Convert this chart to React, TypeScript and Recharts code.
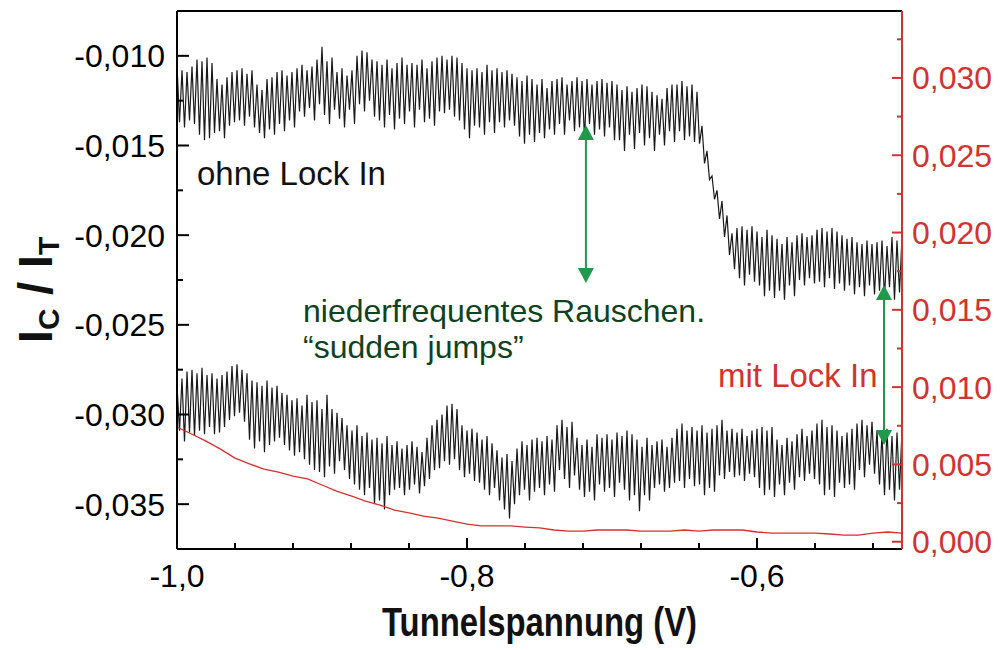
import React from 'react';
import { LineChart, Line, XAxis, YAxis, ReferenceLine, ReferenceDot } from 'recharts';

const FONT = '"Liberation Sans", Arial, Helvetica, sans-serif';
const RED = '#d4322e';
const GREEN = '#1f9a4b';
const DARKGREEN = '#0f4220';

// sampling grid of the measurement (291 samples between -1.0 V and -0.5 V)
const X_START = -1.0;
const X_STEP = 0.5 / 290;

// upper curve "ohne Lock In" (left axis), units of 1e-4
const upperPeaks = [
  -105, -108, -109, -106, -102, -103, -101, -104, -113, -116, -112, -109, -108, -107, -110, -108,
  -116, -119, -113, -112, -109, -108, -111, -109, -107, -105, -108, -106, -102, -95, -103, -101,
  -109, -107, -111, -108, -100, -97, -98, -102, -103, -105, -102, -107, -104, -101, -105, -104,
  -105, -102, -107, -103, -101, -100, -102, -100, -101, -104, -107, -108, -107, -109, -105, -108,
  -107, -109, -108, -110, -112, -114, -111, -113, -116, -113, -118, -114, -113, -112, -116, -114,
  -112, -114, -113, -116, -114, -113, -115, -114, -116, -119, -117, -120, -118, -116, -117, -120,
  -122, -124, -118, -116, -116, -114, -117, -116, -120, -139, -153, -167, -175, -181, -189, -199,
  -196, -195, -197, -195, -198, -201, -197, -200, -202, -205, -201, -204, -200, -199, -201, -200,
  -197, -196, -198, -196, -198, -200, -202, -201, -204, -205, -203, -205, -204, -203, -206, -201,
  -203, -201,
];
const upperTroughs = [
  -137, -140, -136, -138, -144, -147, -146, -143, -142, -146, -139, -137, -136, -139, -134, -140,
  -143, -146, -141, -144, -138, -142, -136, -140, -131, -134, -129, -136, -127, -133, -138, -130,
  -135, -140, -130, -138, -127, -131, -125, -134, -136, -140, -133, -141, -135, -138, -131, -140,
  -130, -137, -135, -139, -131, -132, -130, -134, -136, -141, -146, -139, -140, -144, -137, -143,
  -137, -140, -136, -139, -145, -149, -144, -148, -143, -146, -141, -144, -138, -144, -136, -142,
  -140, -146, -138, -144, -141, -145, -140, -147, -147, -153, -144, -152, -143, -150, -146, -153,
  -144, -150, -142, -148, -142, -147, -145, -148, -149, -160, -169, -180, -191, -201, -211, -219,
  -224, -228, -222, -226, -228, -234, -231, -235, -231, -236, -228, -234, -225, -228, -224, -227,
  -226, -229, -224, -230, -227, -231, -228, -233, -229, -234, -228, -233, -231, -235, -229, -236,
  -232,
];

// lower curve (left axis), units of 1e-4
const lowerPeaks = [
  -284, -280, -276, -275, -277, -274, -278, -277, -280, -278, -276, -273, -272, -275, -277, -281,
  -282, -284, -281, -285, -284, -288, -289, -292, -291, -295, -289, -293, -292, -297, -289, -297,
  -299, -302, -306, -309, -306, -312, -310, -314, -313, -316, -312, -317, -315, -319, -317, -315,
  -318, -321, -313, -306, -303, -300, -295, -294, -297, -306, -309, -308, -310, -314, -312, -316,
  -320, -324, -322, -326, -319, -315, -317, -314, -313, -315, -312, -314, -306, -303, -307, -304,
  -313, -317, -314, -318, -311, -313, -311, -314, -310, -312, -309, -311, -314, -318, -313, -317,
  -315, -314, -318, -313, -308, -305, -309, -307, -309, -306, -310, -308, -306, -303, -309, -308,
  -310, -308, -312, -309, -308, -307, -309, -307, -314, -317, -313, -315, -311, -308, -312, -309,
  -305, -303, -307, -306, -309, -312, -310, -308, -305, -303, -306, -304, -309, -311, -308, -312,
  -310, -309,
];
const lowerTroughs = [
  -309, -315, -310, -312, -309, -311, -307, -311, -310, -307, -303, -301, -299, -304, -314, -319,
  -315, -321, -317, -315, -313, -317, -320, -323, -321, -325, -328, -331, -332, -335, -329, -333,
  -326, -331, -336, -339, -342, -345, -341, -350, -348, -353, -345, -342, -341, -345, -342, -339,
  -344, -340, -336, -331, -330, -326, -328, -325, -331, -335, -333, -337, -338, -342, -345, -341,
  -348, -353, -358, -350, -345, -342, -348, -343, -341, -345, -339, -343, -331, -336, -341, -334,
  -342, -346, -343, -348, -339, -343, -341, -346, -338, -342, -348, -345, -354, -345, -348, -341,
  -339, -343, -341, -338, -337, -341, -336, -340, -339, -345, -341, -343, -334, -336, -332, -335,
  -334, -337, -333, -335, -341, -345, -342, -346, -339, -345, -338, -342, -335, -337, -333, -336,
  -339, -345, -342, -346, -338, -341, -339, -342, -331, -335, -328, -333, -339, -345, -342, -348,
  -342,
];

// "mit Lock In" curve (right axis), units of 1e-4
const redX = [
  -1.0, -0.99, -0.98, -0.97, -0.96, -0.95, -0.94, -0.93, -0.92, -0.91, -0.9, -0.89, -0.88, -0.87,
  -0.86, -0.85, -0.84, -0.83, -0.82, -0.81, -0.8, -0.79, -0.78, -0.77, -0.76, -0.75, -0.74, -0.73,
  -0.72, -0.71, -0.7, -0.69, -0.68, -0.67, -0.66, -0.65, -0.64, -0.63, -0.62, -0.61, -0.6, -0.59,
  -0.58, -0.57, -0.56, -0.55, -0.54, -0.53, -0.52, -0.51, -0.5,
];
const redVals = [
  74.2, 69.7, 65.1, 59.9, 54.1, 50.3, 47.0, 45.1, 42.5, 40.6, 36.7, 32.8, 29.6, 26.3, 23.7, 20.5,
  18.6, 16.6, 15.3, 13.4, 11.4, 10.2, 10.2, 10.2, 9.5, 8.9, 7.6, 6.9, 6.9, 7.6, 7.6, 7.6, 6.9, 6.9,
  6.9, 7.6, 6.9, 7.6, 7.6, 7.6, 6.3, 5.6, 5.6, 5.6, 5.6, 5.0, 4.3, 4.3, 5.6, 6.3, 5.6,
];

const xTicks = [-1.0, -0.96, -0.92, -0.88, -0.84, -0.8, -0.76, -0.72, -0.68, -0.64, -0.6, -0.56, -0.52];
const yLeftTicks = [-0.035, -0.0325, -0.03, -0.0275, -0.025, -0.0225, -0.02, -0.0175, -0.015, -0.0125, -0.01];
const yRightTicks = [0, 0.0025, 0.005, 0.0075, 0.01, 0.0125, 0.015, 0.0175, 0.02, 0.0225, 0.025, 0.0275, 0.03, 0.0325];

const xDomain: [number, number] = [-1.0, -0.5];
const yLeftDomain: [number, number] = [-0.0375, -0.0075];
const yRightDomain: [number, number] = [-0.00047, 0.03433];

// annotations (data coordinates)
const upperArrow = { x: -0.718, from: -0.01386, to: -0.02267 };
const lowerArrow = { x: -0.5124, from: -0.02278, to: -0.0317 };
const notes = [
  { text: 'ohne Lock In', x: -0.9862, y: -0.0172, color: '#111', size: 33 },
  { text: 'niederfrequentes Rauschen.', x: -0.9131, y: -0.02485, color: DARKGREEN, size: 32 },
  { text: '\u201Csudden jumps\u201D', x: -0.9131, y: -0.02686, color: DARKGREEN, size: 32 },
  { text: 'mit Lock In', x: -0.6269, y: -0.02847, color: RED, size: 33 },
];

function interleave(p: number[], t: number[]) {
  const out: number[] = [];
  for (let i = 0; i < p.length; i++) {
    out.push(p[i]);
    if (i < t.length) out.push(t[i]);
  }
  return out;
}

const upper = interleave(upperPeaks, upperTroughs);
const lower = interleave(lowerPeaks, lowerTroughs);
const mainData = upper.map((u, i) => ({ x: X_START + i * X_STEP, upper: u / 1e4, lower: lower[i] / 1e4 }));
const redData = redX.map((x, i) => ({ x, red: redVals[i] / 1e4 }));

const isMult = (v: number, step: number) => Math.abs(v / step - Math.round(v / step)) < 1e-6;
const fmt = (v: number, d: number) => {
  const s = (Math.abs(v) < 1e-12 ? 0 : v).toFixed(d);
  return s.replace('.', ',');
};

const LeftTick = (props: any) => {
  const { x, y, payload } = props;
  const v = payload.value;
  const major = isMult(v, 0.005);
  return (
    <g>
      <line x1={x} x2={x + (major ? 12 : 6)} y1={y} y2={y} stroke="#000" strokeWidth={2} />
      {major && (
        <text x={x - 12} y={y} dy="0.36em" textAnchor="end" fontSize={32} fontFamily={FONT} fill="#000">
          {fmt(v, 3)}
        </text>
      )}
    </g>
  );
};

const RightTick = (props: any) => {
  const { x, y, payload } = props;
  const v = payload.value;
  const major = isMult(v, 0.005);
  return (
    <g>
      <line x1={x} x2={x - (major ? 10 : 5)} y1={y} y2={y} stroke={RED} strokeWidth={2} />
      {major && (
        <text x={x + 10} y={y} dy="0.36em" textAnchor="start" fontSize={32} fontFamily={FONT} fill={RED}>
          {fmt(v, 3)}
        </text>
      )}
    </g>
  );
};

const BottomTick = (props: any) => {
  const { x, y, payload } = props;
  const v = payload.value;
  const major = isMult(v, 0.2);
  return (
    <g>
      <line x1={x} x2={x} y1={y} y2={y - (major ? 11 : 6)} stroke="#000" strokeWidth={2} />
      {major && (
        <text x={x} y={y + 38} textAnchor="middle" fontSize={32} fontFamily={FONT} fill="#000">
          {fmt(v, 1)}
        </text>
      )}
    </g>
  );
};

const XTitle = () => (
  <text
    x={539.5}
    y={636}
    textAnchor="middle"
    fontSize={40}
    fontWeight="bold"
    fontFamily={FONT}
    fill="#111"
    textLength={315}
    lengthAdjust="spacingAndGlyphs"
  >
    Tunnelspannung (V)
  </text>
);

const YTitle = () => (
  <text
    transform="translate(52, 290) rotate(-90)"
    textAnchor="middle"
    fontSize={48}
    fontWeight="bold"
    fontFamily={FONT}
    fill="#111"
  >
    I
    <tspan fontSize={30} dy={7}>C</tspan>
    <tspan dy={-7}> / I</tspan>
    <tspan fontSize={30} dy={7}>T</tspan>
  </text>
);

const ArrowShape = (props: any) => {
  const { x1, y1, x2, y2 } = props;
  const x = (x1 + x2) / 2;
  const top = Math.min(y1, y2);
  const bot = Math.max(y1, y2);
  const h = 15;
  const w = 8;
  return (
    <g>
      <line x1={x} x2={x} y1={top + h - 2} y2={bot - h + 2} stroke={GREEN} strokeWidth={2} />
      <polygon points={`${x},${top} ${x - w},${top + h} ${x + w},${top + h}`} fill={GREEN} />
      <polygon points={`${x},${bot} ${x - w},${bot - h} ${x + w},${bot - h}`} fill={GREEN} />
    </g>
  );
};

const noteShape = (text: string, color: string, size: number) => (p: any) => (
  <text x={p.cx} y={p.cy} fontSize={size} fontFamily={FONT} fill={color}>
    {text}
  </text>
);

export default function App() {
  return (
    <div style={{ position: 'absolute', left: 0, top: 0, width: 1005, height: 650, background: '#fff' }}>
      <LineChart width={1005} height={650} data={mainData} margin={{ top: 11, right: 0, bottom: 0, left: 0 }}>
        <XAxis
          dataKey="x"
          type="number"
          domain={xDomain}
          allowDataOverflow
          ticks={xTicks}
          interval={0}
          height={101}
          tick={<BottomTick />}
          tickLine={false}
          tickSize={0}
          tickMargin={0}
          axisLine={{ stroke: '#000', strokeWidth: 2 }}
          label={<XTitle />}
        />
        <YAxis
          yAxisId="L"
          orientation="left"
          type="number"
          width={177}
          domain={yLeftDomain}
          allowDataOverflow
          ticks={yLeftTicks}
          interval={0}
          tick={<LeftTick />}
          tickLine={false}
          tickSize={0}
          tickMargin={0}
          axisLine={{ stroke: '#000', strokeWidth: 2 }}
          label={<YTitle />}
        />
        <YAxis
          yAxisId="R"
          orientation="right"
          type="number"
          width={103}
          domain={yRightDomain}
          allowDataOverflow
          ticks={yRightTicks}
          interval={0}
          tick={<RightTick />}
          tickLine={false}
          tickSize={0}
          tickMargin={0}
          axisLine={{ stroke: RED, strokeWidth: 2 }}
        />
        <ReferenceLine yAxisId="L" y={yLeftDomain[1]} stroke="#000" strokeWidth={2} ifOverflow="visible" />
        <Line
          yAxisId="L"
          dataKey="upper"
          type="linear"
          stroke="#1a1a1a"
          strokeWidth={1.2}
          dot={false}
          isAnimationActive={false}
        />
        <Line
          yAxisId="L"
          dataKey="lower"
          type="linear"
          stroke="#1a1a1a"
          strokeWidth={1.2}
          dot={false}
          isAnimationActive={false}
        />
        <Line
          yAxisId="R"
          data={redData}
          dataKey="red"
          type="linear"
          stroke={RED}
          strokeWidth={1.3}
          dot={false}
          isAnimationActive={false}
        />
        <ReferenceLine
          yAxisId="L"
          segment={[
            { x: upperArrow.x, y: upperArrow.from },
            { x: upperArrow.x, y: upperArrow.to },
          ]}
          shape={<ArrowShape />}
          ifOverflow="visible"
        />
        <ReferenceLine
          yAxisId="L"
          segment={[
            { x: lowerArrow.x, y: lowerArrow.from },
            { x: lowerArrow.x, y: lowerArrow.to },
          ]}
          shape={<ArrowShape />}
          ifOverflow="visible"
        />
        {notes.map((n) => (
          <ReferenceDot
            key={n.text}
            yAxisId="L"
            x={n.x}
            y={n.y}
            r={0}
            ifOverflow="visible"
            shape={noteShape(n.text, n.color, n.size)}
          />
        ))}
      </LineChart>
    </div>
  );
}
